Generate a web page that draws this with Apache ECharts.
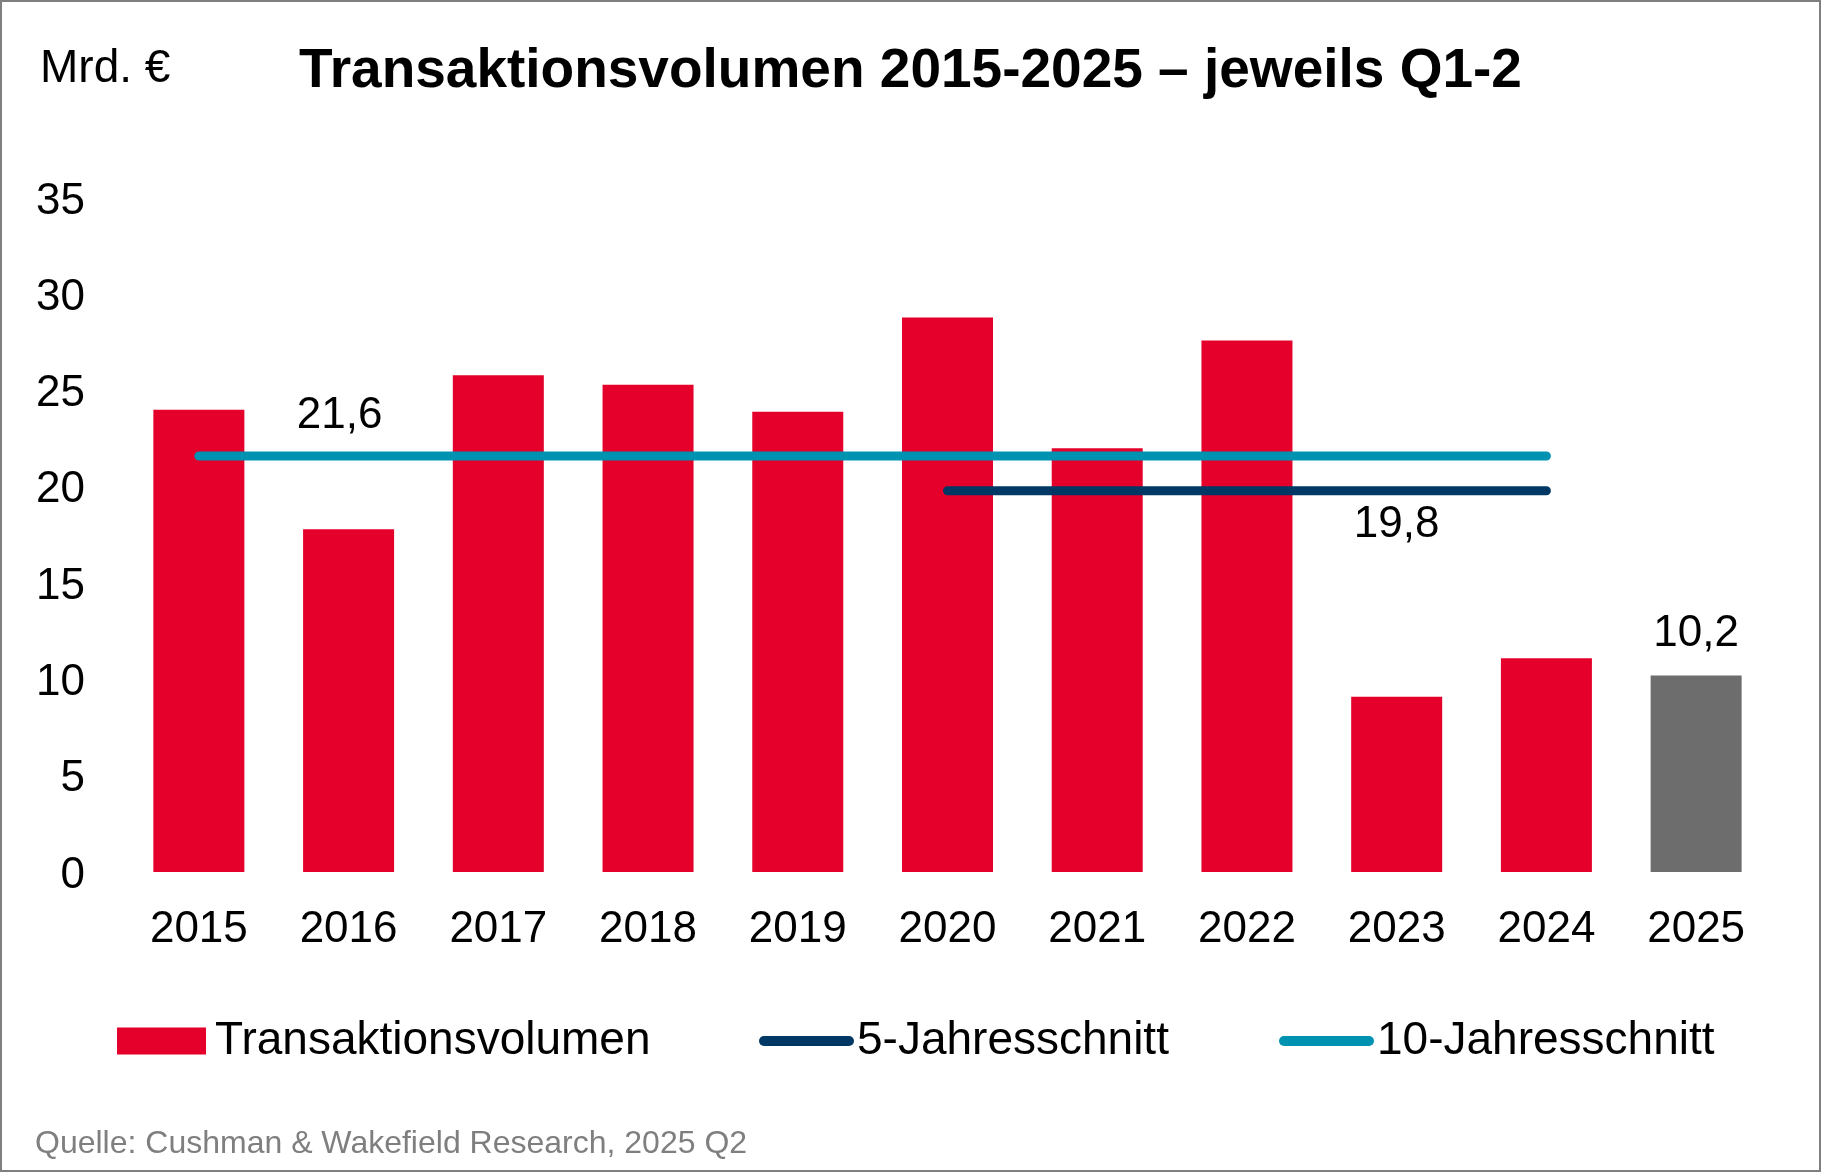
<!DOCTYPE html>
<html>
<head>
<meta charset="utf-8">
<script src="https://cdn.jsdelivr.net/npm/echarts@6/dist/echarts.min.js"></script>
<style>
  html, body { margin: 0; padding: 0; background: #fff; }
  #chart { width: 1821px; height: 1172px; box-sizing: border-box; border: 2px solid #7f7f7f; }
</style>
</head>
<body>
<div id="chart"></div>
<script>
// Daten
const years = ['2015', '2016', '2017', '2018', '2019', '2020', '2021', '2022', '2023', '2024', '2025']
const volumen = [24.0, 17.8, 25.8, 25.3, 23.9, 28.8, 22.0, 27.6, 9.1, 11.1, 10.2]
const yTicks = [0, 5, 10, 15, 20, 25, 30, 35]
const zehnJahresSchnitt = 21.6
const fuenfJahresSchnitt = 19.8
const zehnJahre = ['2015', '2016', '2017', '2018', '2019', '2020', '2021', '2022', '2023', '2024']
const fuenfJahre = ['2020', '2021', '2022', '2023', '2024']

const FONT = 'Liberation Sans, Arial, sans-serif'
const fmt = v => String(v.toFixed(1)).replace('.', ',')

const RED = '#e4002b'
const GREY = '#6d6d6d'
const NAVY = '#003865'
const TEAL = '#0092b1'

const chart = echarts.init(document.getElementById('chart'))

const barData = volumen.map((v, i) => {
  const item = { value: v }
  if (years[i] === '2025') {
    item.itemStyle = { color: GREY }
    item.label = { show: true }
  }
  return item
})

// Durchschnittslinien nur über die jeweiligen Jahre
const zehnData = years.map(y => zehnJahre.includes(y) ? zehnJahresSchnitt : null)
const fuenfData = years.map(y => fuenfJahre.includes(y) ? fuenfJahresSchnitt : null)
zehnData[1] = { value: zehnJahresSchnitt, label: { show: true } }
fuenfData[8] = { value: fuenfJahresSchnitt, label: { show: true } }

const linePath = 'path://M5 0H90A5 5 0 0 1 90 10H5A5 5 0 0 1 5 0Z'

const option = {
  animation: false,
  textStyle: { fontFamily: FONT },
  title: [
    {
      text: 'Transaktionsvolumen 2015-2025 – jeweils Q1-2',
      left: 'center',
      top: 37,
      textStyle: { fontFamily: FONT, fontSize: 55, fontWeight: 'bold', color: '#000' }
    },
    {
      text: 'Mrd. €',
      left: 33,
      top: 39,
      textStyle: { fontFamily: FONT, fontSize: 46, fontWeight: 'normal', color: '#000' }
    },
    {
      text: 'Quelle: Cushman & Wakefield Research, 2025 Q2',
      left: 28,
      top: 1121,
      textStyle: { fontFamily: FONT, fontSize: 32, fontWeight: 'normal', color: '#7f7f7f' }
    }
  ],
  legend: [
    {
      data: ['Transaktionsvolumen'],
      left: 110,
      top: 1007,
      icon: 'rect',
      itemWidth: 89,
      itemHeight: 27,
      itemGap: 0,
      textStyle: { fontFamily: FONT, fontSize: 46, color: '#000', lineHeight: 54, padding: [0, 0, 0, 4] }
    },
    {
      data: ['5-Jahresschnitt'],
      left: 752,
      top: 1007,
      icon: linePath,
      itemWidth: 95,
      itemHeight: 10,
      textStyle: { fontFamily: FONT, fontSize: 46, color: '#000', lineHeight: 54, padding: [0, 0, 0, -2] }
    },
    {
      data: ['10-Jahresschnitt'],
      left: 1272,
      top: 1007,
      icon: linePath,
      itemWidth: 95,
      itemHeight: 10,
      textStyle: { fontFamily: FONT, fontSize: 46, color: '#000', lineHeight: 54, padding: [0, 0, 0, -2] }
    }
  ],
  grid: {
    left: 122,
    right: 48,
    top: 196,
    bottom: 298,
    containLabel: false
  },
  xAxis: {
    type: 'category',
    data: years,
    axisLine: { show: false },
    axisTick: { show: false },
    axisLabel: { fontFamily: FONT, fontSize: 44, color: '#000', margin: 36 }
  },
  yAxis: {
    type: 'value',
    min: yTicks[0],
    max: yTicks[yTicks.length - 1],
    interval: 5,
    splitLine: { show: false },
    axisLine: { show: false },
    axisTick: { show: false },
    axisLabel: { fontFamily: FONT, fontSize: 44, color: '#000', margin: 39, verticalAlign: 'top', lineHeight: 7 }
  },
  series: [
    {
      name: 'Transaktionsvolumen',
      type: 'bar',
      data: barData,
      barWidth: 91,
      itemStyle: { color: RED },
      label: {
        show: false,
        position: 'top',
        distance: 20,
        fontFamily: FONT,
        fontSize: 44,
        lineHeight: 44,
        color: '#000',
        formatter: p => fmt(p.value)
      },
      z: 1
    },
    {
      name: '10-Jahresschnitt',
      type: 'line',
      data: zehnData,
      showSymbol: true,
      symbol: 'circle',
      symbolSize: 0.1,
      connectNulls: false,
      color: TEAL,
      itemStyle: { color: TEAL },
      lineStyle: { color: TEAL, width: 9, cap: 'round' },
      label: {
        show: false,
        position: 'top',
        distance: 18,
        offset: [-9, 0],
        fontFamily: FONT,
        fontSize: 44,
        lineHeight: 44,
        color: '#000',
        formatter: p => fmt(p.value)
      },
      z: 3
    },
    {
      name: '5-Jahresschnitt',
      type: 'line',
      data: fuenfData,
      showSymbol: true,
      symbol: 'circle',
      symbolSize: 0.1,
      connectNulls: false,
      color: NAVY,
      itemStyle: { color: NAVY },
      lineStyle: { color: NAVY, width: 9, cap: 'round' },
      label: {
        show: false,
        position: 'bottom',
        distance: 12,
        fontFamily: FONT,
        fontSize: 44,
        lineHeight: 44,
        color: '#000',
        formatter: p => fmt(p.value)
      },
      z: 3
    }
  ]
}

chart.setOption(option)
</script>
</body>
</html>
